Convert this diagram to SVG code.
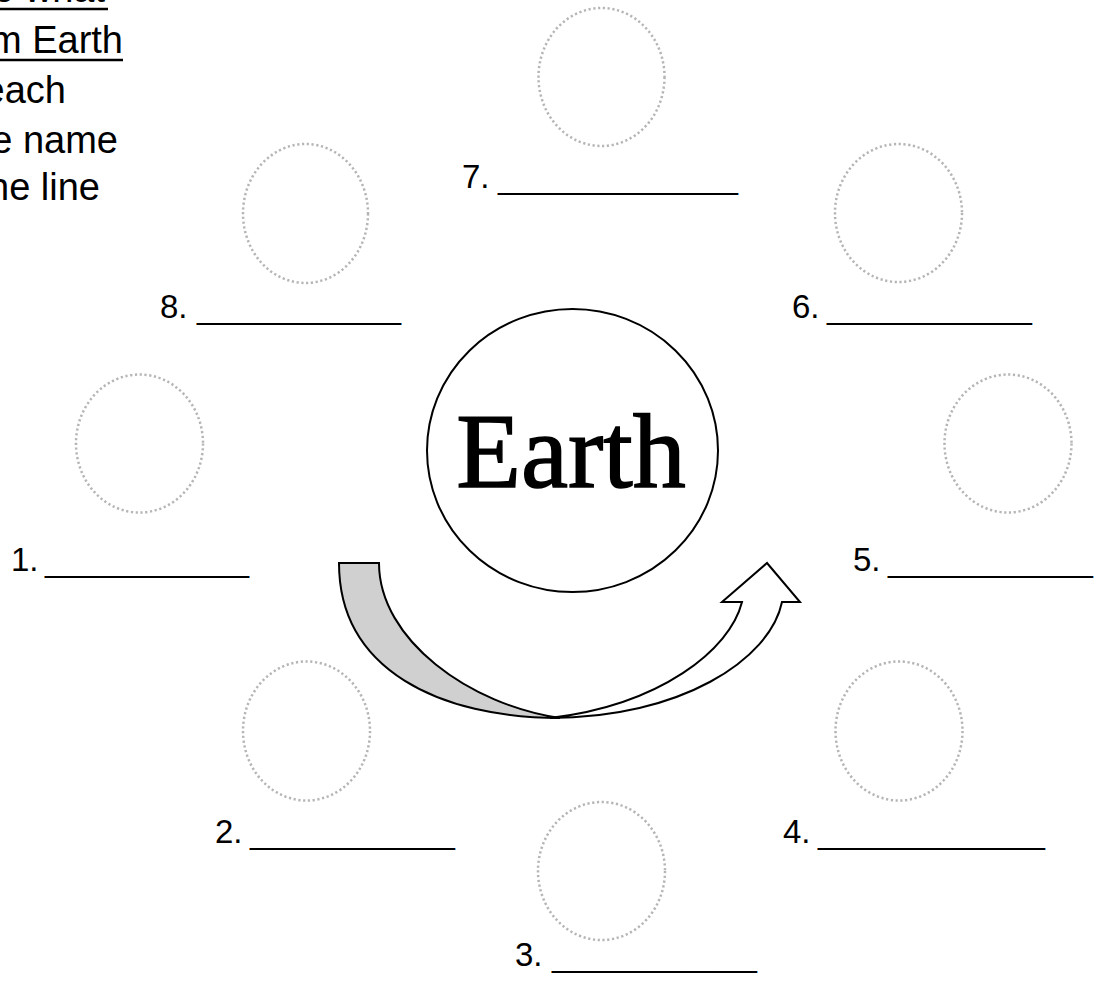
<svg xmlns="http://www.w3.org/2000/svg" width="1099" height="992" viewBox="0 0 1099 992">
<style>
.dot{fill:none;stroke:#b5b5b5;stroke-width:2.5;stroke-dasharray:2.2 2.6}
.lbl{font-family:"Liberation Sans",Arial,sans-serif;font-size:33px;fill:#000}
.instr{font-family:"Liberation Sans",Arial,sans-serif;font-size:38px;fill:#000;text-anchor:end}
.shape{stroke:#000;stroke-width:2;stroke-linejoin:miter}
</style>
<rect width="1099" height="992" fill="#fff"/>
<g id="instructions">
<text class="instr" x="105" y="2">o what</text>
<line x1="0" y1="9" x2="108" y2="9" stroke="#000" stroke-width="2.5"/>
<text class="instr" x="123" y="53">m Earth</text>
<line x1="0" y1="60" x2="123" y2="60" stroke="#000" stroke-width="2.5"/>
<text class="instr" x="66" y="103">each</text>
<text class="instr" x="118" y="153">e name</text>
<text class="instr" x="100" y="200">he line</text>
</g>
<g id="connectors">
<path class="shape" fill="#d0d0d0" d="M339,563 L379,563 C379,640 470,705 560,718 C440,718 339,670 339,563 Z"/>
<path class="shape" fill="#fff" d="M550,718 C680,718 770,660 782,602 L800,602 L767,563 L722,602 L742,602 C730,650 660,705 550,718 Z"/>
</g>
<g id="earth">
<ellipse cx="572.5" cy="450.5" rx="145.5" ry="141.5" fill="#fff" stroke="#000" stroke-width="2"/>
<text x="571" y="487" text-anchor="middle" font-family="Liberation Serif,Times New Roman,serif" font-size="106" stroke="#000" stroke-width="1.5">Earth</text>
</g>
<g id="planet7"><ellipse class="dot" cx="601.5" cy="77" rx="63" ry="69"/>
<text class="lbl" x="462" y="188">7. <tspan x="498" textLength="240" lengthAdjust="spacingAndGlyphs">_____________</tspan></text></g>
<g id="planet8"><ellipse class="dot" cx="305.5" cy="213.5" rx="62.5" ry="69.5"/>
<text class="lbl" x="160" y="318">8. <tspan x="197" textLength="204" lengthAdjust="spacingAndGlyphs">___________</tspan></text></g>
<g id="planet6"><ellipse class="dot" cx="898.5" cy="213" rx="63.5" ry="69"/>
<text class="lbl" x="792" y="318">6. <tspan x="827" textLength="205" lengthAdjust="spacingAndGlyphs">___________</tspan></text></g>
<g id="planet1"><ellipse class="dot" cx="139.5" cy="443.5" rx="63.5" ry="69"/>
<text class="lbl" x="11" y="571">1. <tspan x="45" textLength="204" lengthAdjust="spacingAndGlyphs">___________</tspan></text></g>
<g id="planet5"><ellipse class="dot" cx="1008" cy="443.5" rx="63.5" ry="69"/>
<text class="lbl" x="853" y="571">5. <tspan x="888" textLength="205" lengthAdjust="spacingAndGlyphs">___________</tspan></text></g>
<g id="planet2"><ellipse class="dot" cx="306.5" cy="731" rx="63.5" ry="69.5"/>
<text class="lbl" x="215" y="843">2. <tspan x="250" textLength="205" lengthAdjust="spacingAndGlyphs">___________</tspan></text></g>
<g id="planet4"><ellipse class="dot" cx="899" cy="731" rx="63.5" ry="69.5"/>
<text class="lbl" x="783" y="843">4. <tspan x="818" textLength="227" lengthAdjust="spacingAndGlyphs">____________</tspan></text></g>
<g id="planet3"><ellipse class="dot" cx="601.5" cy="871" rx="63.5" ry="69"/>
<text class="lbl" x="515" y="966">3. <tspan x="552" textLength="205" lengthAdjust="spacingAndGlyphs">___________</tspan></text></g>
</svg>
